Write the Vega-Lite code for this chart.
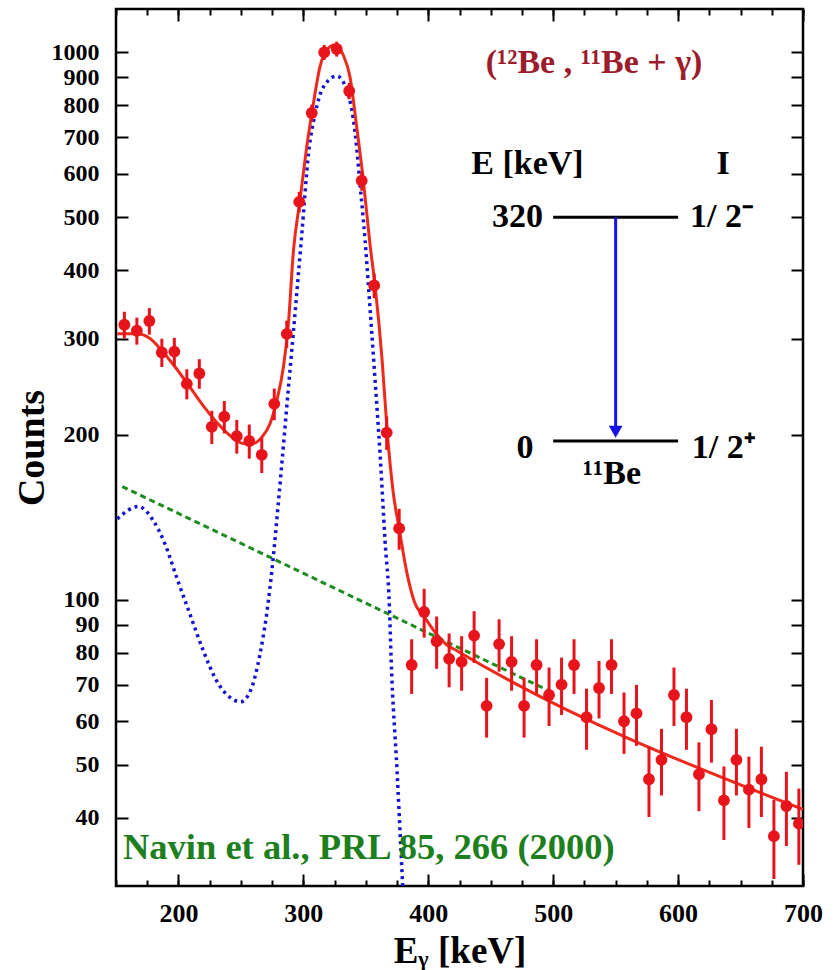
{
  "$schema": "https://vega.github.io/schema/vega-lite/v6.json",
  "width": 687,
  "height": 877,
  "autosize": {"type": "none"},
  "padding": {"left": 116, "top": 9, "right": 35, "bottom": 84},
  "background": "white",
  "config": {
    "font": "Liberation Serif",
    "view": {"stroke": "black", "strokeWidth": 2.5},
    "axis": {
      "domain": false, "grid": false, "tickColor": "black", "tickWidth": 2,
      "labelColor": "black", "labelFont": "Liberation Serif", "labelFontWeight": "bold", "labelFontSize": 24,
      "titleFont": "Liberation Serif", "titleFontWeight": "bold", "titleColor": "black"
    }
  },
  "resolve": {"axis": {"x": "independent", "y": "independent"}},
  "datasets": {
    "counts": [
      {"x": 156.7, "y": 318, "lo": 300.2, "hi": 335.8},
      {"x": 166.7, "y": 310, "lo": 292.4, "hi": 327.6},
      {"x": 176.7, "y": 323, "lo": 305, "hi": 341},
      {"x": 186.7, "y": 283, "lo": 266.2, "hi": 299.8},
      {"x": 196.7, "y": 284, "lo": 267.1, "hi": 300.9},
      {"x": 206.7, "y": 248, "lo": 232.3, "hi": 263.7},
      {"x": 216.7, "y": 259, "lo": 242.9, "hi": 275.1},
      {"x": 226.7, "y": 207, "lo": 192.6, "hi": 221.4},
      {"x": 236.7, "y": 216, "lo": 201.3, "hi": 230.7},
      {"x": 246.7, "y": 199, "lo": 184.9, "hi": 213.1},
      {"x": 256.7, "y": 195, "lo": 181, "hi": 209},
      {"x": 266.7, "y": 184, "lo": 170.4, "hi": 197.6},
      {"x": 276.7, "y": 228, "lo": 212.9, "hi": 243.1},
      {"x": 286.7, "y": 306, "lo": 288.5, "hi": 323.5},
      {"x": 296.7, "y": 533, "lo": 509.9, "hi": 556.1},
      {"x": 306.7, "y": 775, "lo": 747.2, "hi": 802.8},
      {"x": 316.7, "y": 1000, "lo": 968.4, "hi": 1031.6},
      {"x": 326.7, "y": 1014, "lo": 982.2, "hi": 1045.8},
      {"x": 336.7, "y": 850, "lo": 820.8, "hi": 879.2},
      {"x": 346.7, "y": 583, "lo": 558.9, "hi": 607.1},
      {"x": 356.7, "y": 375, "lo": 355.6, "hi": 394.4},
      {"x": 366.7, "y": 202, "lo": 187.8, "hi": 216.2},
      {"x": 376.7, "y": 135, "lo": 123.4, "hi": 146.6},
      {"x": 386.7, "y": 76, "lo": 67.3, "hi": 84.7},
      {"x": 396.7, "y": 95, "lo": 85.3, "hi": 104.7},
      {"x": 406.7, "y": 84, "lo": 74.8, "hi": 93.2},
      {"x": 416.7, "y": 78, "lo": 69.2, "hi": 86.8},
      {"x": 426.7, "y": 77, "lo": 68.2, "hi": 85.8},
      {"x": 436.7, "y": 86, "lo": 76.7, "hi": 95.3},
      {"x": 446.7, "y": 64, "lo": 56, "hi": 72},
      {"x": 456.7, "y": 83, "lo": 73.9, "hi": 92.1},
      {"x": 466.7, "y": 77, "lo": 68.2, "hi": 85.8},
      {"x": 476.7, "y": 64, "lo": 56, "hi": 72},
      {"x": 486.7, "y": 76, "lo": 67.3, "hi": 84.7},
      {"x": 496.7, "y": 67, "lo": 58.8, "hi": 75.2},
      {"x": 506.7, "y": 70, "lo": 61.6, "hi": 78.4},
      {"x": 516.7, "y": 76, "lo": 67.3, "hi": 84.7},
      {"x": 526.7, "y": 61, "lo": 53.2, "hi": 68.8},
      {"x": 536.7, "y": 69, "lo": 60.7, "hi": 77.3},
      {"x": 546.7, "y": 76, "lo": 67.3, "hi": 84.7},
      {"x": 556.7, "y": 60, "lo": 52.3, "hi": 67.7},
      {"x": 566.7, "y": 62, "lo": 54.1, "hi": 69.9},
      {"x": 576.7, "y": 47, "lo": 40.1, "hi": 53.9},
      {"x": 586.7, "y": 51, "lo": 43.9, "hi": 58.1},
      {"x": 596.7, "y": 67, "lo": 58.8, "hi": 75.2},
      {"x": 606.7, "y": 61, "lo": 53.2, "hi": 68.8},
      {"x": 616.7, "y": 48, "lo": 41.1, "hi": 54.9},
      {"x": 626.7, "y": 58, "lo": 50.4, "hi": 65.6},
      {"x": 636.7, "y": 43, "lo": 36.4, "hi": 49.6},
      {"x": 646.7, "y": 51, "lo": 43.9, "hi": 58.1},
      {"x": 656.7, "y": 45, "lo": 38.3, "hi": 51.7},
      {"x": 666.7, "y": 47, "lo": 40.1, "hi": 53.9},
      {"x": 676.7, "y": 37, "lo": 30.9, "hi": 43.1},
      {"x": 686.7, "y": 42, "lo": 35.5, "hi": 48.5},
      {"x": 696.7, "y": 39, "lo": 32.8, "hi": 45.2}
    ],
    "fit": [
      {"x": 151, "y": 306}, {"x": 166.6, "y": 306}, {"x": 177.2, "y": 300}, {"x": 187.9, "y": 283},
      {"x": 198.6, "y": 264}, {"x": 209.2, "y": 244.5}, {"x": 219.9, "y": 226}, {"x": 230.6, "y": 211},
      {"x": 241.3, "y": 199.5}, {"x": 251.9, "y": 193}, {"x": 260, "y": 193}, {"x": 266.6, "y": 198},
      {"x": 273.3, "y": 209.6}, {"x": 278.7, "y": 231}, {"x": 284, "y": 266}, {"x": 288, "y": 319},
      {"x": 292.1, "y": 435}, {"x": 297.3, "y": 537}, {"x": 302.7, "y": 672}, {"x": 308, "y": 806},
      {"x": 313.3, "y": 941}, {"x": 318.7, "y": 1010}, {"x": 325.3, "y": 1031}, {"x": 332, "y": 988},
      {"x": 337.3, "y": 902}, {"x": 342.7, "y": 731}, {"x": 348, "y": 584}, {"x": 353.4, "y": 445},
      {"x": 357.4, "y": 375}, {"x": 362.9, "y": 277}, {"x": 367.2, "y": 202}, {"x": 372.1, "y": 156},
      {"x": 376.7, "y": 135}, {"x": 382.9, "y": 112}, {"x": 389, "y": 99}, {"x": 397, "y": 93},
      {"x": 405, "y": 87.5}, {"x": 414, "y": 83}, {"x": 422.9, "y": 80.7}, {"x": 700, "y": 41.4}
    ],
    "peak": [
      {"x": 151, "y": 140.5}, {"x": 167.9, "y": 148}, {"x": 179.9, "y": 139.5}, {"x": 189.2, "y": 126.5},
      {"x": 198.6, "y": 109.8}, {"x": 209.2, "y": 94.1}, {"x": 219.9, "y": 80.7}, {"x": 230.6, "y": 71.1},
      {"x": 241.3, "y": 66.3}, {"x": 249.8, "y": 65.1}, {"x": 258.6, "y": 69.1}, {"x": 265.3, "y": 79.6},
      {"x": 270.6, "y": 94.1}, {"x": 275.9, "y": 119.5}, {"x": 279.9, "y": 149.7}, {"x": 288.6, "y": 252},
      {"x": 292.1, "y": 310}, {"x": 298.8, "y": 467}, {"x": 304.1, "y": 653}, {"x": 309.5, "y": 774},
      {"x": 316.1, "y": 865}, {"x": 326.8, "y": 905}, {"x": 334.8, "y": 853}, {"x": 341.5, "y": 711},
      {"x": 345.3, "y": 576}, {"x": 349.4, "y": 454}, {"x": 353.3, "y": 342.5}, {"x": 357.4, "y": 252},
      {"x": 361.4, "y": 184.7}, {"x": 365.4, "y": 128}, {"x": 368.9, "y": 96.9}, {"x": 370.3, "y": 77.5},
      {"x": 375, "y": 48.7}, {"x": 379.5, "y": 30}
    ]
  },
  "layer": [
    {
      "data": {"values": [{"x": 155, "y": 161}, {"x": 500, "y": 67.6}]},
      "mark": {"type": "line", "color": "#1E8C1E", "strokeWidth": 3, "strokeDash": [6, 4], "clip": true},
      "encoding": {
        "x": {"field": "x", "type": "quantitative",
          "scale": {"domain": [150, 700], "nice": false, "zero": false},
          "axis": {"orient": "bottom", "values": [200, 300, 400, 500, 600, 700], "tickSize": -12, "labelPadding": 26,
            "labelFontSize": 26, "labelFlush": false, "labelOverlap": false, "title": "Eᵧ [keV]", "titleFontSize": 37, "titlePadding": 7}},
        "y": {"field": "y", "type": "quantitative",
          "scale": {"type": "log", "domain": [30, 1200], "nice": false},
          "axis": {"orient": "left", "values": [40, 50, 60, 70, 80, 90, 100, 200, 300, 400, 500, 600, 700, 800, 900, 1000],
            "tickSize": -12, "labelPadding": 29, "labelOverlap": false, "labelFlush": false, "format": "d",
            "title": "Counts", "titleFontSize": 38, "titlePadding": 0}}
      }
    },
    {
      "data": {"name": "peak"},
      "mark": {"type": "line", "color": "#1414D2", "strokeWidth": 3.5, "strokeDash": [3, 4], "interpolate": "monotone", "clip": true},
      "encoding": {
        "x": {"field": "x", "type": "quantitative",
          "axis": {"orient": "bottom", "values": [150, 175, 200, 225, 250, 275, 300, 325, 350, 375, 400, 425, 450, 475, 500, 525, 550, 575, 600, 625, 650, 675, 700],
            "tickSize": -6, "labels": false, "title": null}},
        "y": {"field": "y", "type": "quantitative",
          "axis": {"orient": "right", "values": [40, 50, 60, 70, 80, 90, 100, 200, 300, 400, 500, 600, 700, 800, 900, 1000],
            "tickSize": -12, "labels": false, "title": null}}
      }
    },
    {
      "data": {"name": "fit"},
      "mark": {"type": "line", "color": "#EE2A1C", "strokeWidth": 3, "interpolate": "monotone", "clip": true},
      "encoding": {
        "x": {"field": "x", "type": "quantitative",
          "axis": {"orient": "top", "values": [200, 300, 400, 500, 600, 700], "tickSize": -12, "labels": false, "title": null}},
        "y": {"field": "y", "type": "quantitative", "axis": null}
      }
    },
    {
      "data": {"name": "counts"},
      "mark": {"type": "rule", "color": "#E8141C", "strokeWidth": 3, "clip": true},
      "encoding": {
        "x": {"field": "x", "type": "quantitative",
          "axis": {"orient": "top", "values": [150, 175, 200, 225, 250, 275, 300, 325, 350, 375, 400, 425, 450, 475, 500, 525, 550, 575, 600, 625, 650, 675, 700],
            "tickSize": -6, "labels": false, "title": null}},
        "y": {"field": "lo", "type": "quantitative", "axis": null},
        "y2": {"field": "hi"}
      }
    },
    {
      "data": {"name": "counts"},
      "mark": {"type": "point", "shape": "circle", "filled": true, "color": "#E8141C", "opacity": 1, "size": 140, "clip": true},
      "encoding": {
        "x": {"field": "x", "type": "quantitative", "axis": null},
        "y": {"field": "y", "type": "quantitative", "axis": null}
      }
    },
    {
      "data": {"values": [{"x": 500, "x2": 600, "y": 500}, {"x": 500, "x2": 600, "y": 195}]},
      "mark": {"type": "rule", "color": "black", "strokeWidth": 3},
      "encoding": {
        "x": {"field": "x", "type": "quantitative", "axis": null},
        "x2": {"field": "x2"},
        "y": {"field": "y", "type": "quantitative", "axis": null}
      }
    },
    {
      "data": {"values": [{"x": 550, "y": 500, "y2": 206}]},
      "mark": {"type": "rule", "color": "#1414E6", "strokeWidth": 3},
      "encoding": {
        "x": {"field": "x", "type": "quantitative", "axis": null},
        "y": {"field": "y", "type": "quantitative", "axis": null},
        "y2": {"field": "y2"}
      }
    },
    {
      "data": {"values": [{"x": 550, "y": 202.8}]},
      "mark": {"type": "point", "shape": "triangle-down", "filled": true, "color": "#1414E6", "opacity": 1, "size": 190},
      "encoding": {
        "x": {"field": "x", "type": "quantitative", "axis": null},
        "y": {"field": "y", "type": "quantitative", "axis": null}
      }
    },
    {
      "data": {"values": [{"x": 532.7, "y": 956, "t": "(¹²Be , ¹¹Be + γ)"}]},
      "mark": {"type": "text", "font": "Liberation Serif", "fontWeight": "bold", "fontSize": 34, "color": "#9C1C2C", "align": "center", "baseline": "middle"},
      "encoding": {
        "x": {"field": "x", "type": "quantitative", "axis": null},
        "y": {"field": "y", "type": "quantitative", "axis": null},
        "text": {"field": "t"}
      }
    },
    {
      "data": {"values": [{"x": 479.4, "y": 625, "t": "E [keV]"}, {"x": 636, "y": 625, "t": "I"}]},
      "mark": {"type": "text", "font": "Liberation Serif", "fontWeight": "bold", "fontSize": 34, "color": "black", "align": "center", "baseline": "middle"},
      "encoding": {
        "x": {"field": "x", "type": "quantitative", "axis": null},
        "y": {"field": "y", "type": "quantitative", "axis": null},
        "text": {"field": "t"}
      }
    },
    {
      "data": {"values": [{"x": 491.8, "y": 500, "t": "320"}]},
      "mark": {"type": "text", "font": "Liberation Serif", "fontWeight": "bold", "fontSize": 34, "color": "black", "align": "right", "baseline": "middle"},
      "encoding": {
        "x": {"field": "x", "type": "quantitative", "axis": null},
        "y": {"field": "y", "type": "quantitative", "axis": null},
        "text": {"field": "t"}
      }
    },
    {
      "data": {"values": [{"x": 609.5, "y": 500, "t": "1/ 2⁻"}, {"x": 611, "y": 189.5, "t": "1/ 2⁺"}]},
      "mark": {"type": "text", "font": "Liberation Serif", "fontWeight": "bold", "fontSize": 34, "color": "black", "align": "left", "baseline": "middle"},
      "encoding": {
        "x": {"field": "x", "type": "quantitative", "axis": null},
        "y": {"field": "y", "type": "quantitative", "axis": null},
        "text": {"field": "t"}
      }
    },
    {
      "data": {"values": [{"x": 477.4, "y": 189, "t": "0"}, {"x": 547, "y": 170, "t": "¹¹Be"}]},
      "mark": {"type": "text", "font": "Liberation Serif", "fontWeight": "bold", "fontSize": 34, "color": "black", "align": "center", "baseline": "middle"},
      "encoding": {
        "x": {"field": "x", "type": "quantitative", "axis": null},
        "y": {"field": "y", "type": "quantitative", "axis": null},
        "text": {"field": "t"}
      }
    },
    {
      "data": {"values": [{"x": 155.6, "y": 35.2, "t": "Navin et al., PRL 85, 266 (2000)"}]},
      "mark": {"type": "text", "font": "Liberation Serif", "fontWeight": "bold", "fontSize": 36.5, "color": "#1E7F1E", "align": "left", "baseline": "middle"},
      "encoding": {
        "x": {"field": "x", "type": "quantitative", "axis": null},
        "y": {"field": "y", "type": "quantitative", "axis": null},
        "text": {"field": "t"}
      }
    }
  ]
}
